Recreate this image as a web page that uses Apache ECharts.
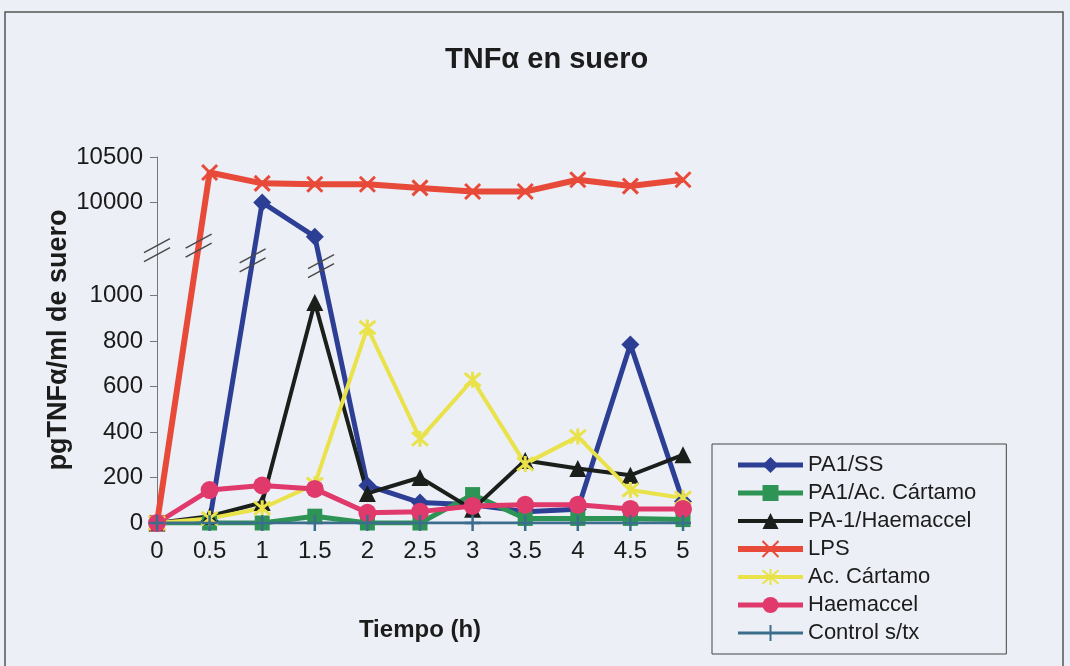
<!DOCTYPE html>
<html>
<head>
<meta charset="utf-8">
<script src="https://cdn.jsdelivr.net/npm/echarts@6/dist/echarts.min.js"></script>
<style>
html,body{margin:0;padding:0;background:#eceff5;}
#chart{width:1070px;height:666px;}
</style>
</head>
<body>
<div id="chart"></div>
<script>
// ---- data ----
const hours = ['0','0.5','1','1.5','2','2.5','3','3.5','4','4.5','5'];
const pa1SS      = [0, 10, 10000, 6700, 165, 90, 80, 50, 60, 785, 95];
const pa1AcCart  = [0, 0, 0, 30, 0, 0, 125, 20, 20, 20, 15];
const pa1Haem    = [0, 30, 90, 970, 130, 200, 60, 275, 240, 210, 300];
const lps        = [0, 10330, 10210, 10200, 10200, 10160, 10120, 10120, 10250, 10180, 10250];
const acCartamo  = [0, 20, 65, 170, 860, 370, 630, 260, 380, 145, 110];
const haemaccel  = [0, 145, 165, 150, 45, 50, 75, 80, 80, 62, 62];
const controlStx = [0, 0, 0, 0, 0, 0, 0, 0, 0, 0, 0];
const yTickValues = [0, 200, 400, 600, 800, 1000, 10000, 10500];

// ---- broken-axis mapping (0-1000 linear, compressed 1000-10000, 10000-10500 linear) ----
function toAxis(v){
  if (v <= 1000) return v;
  if (v <= 10000) return 1000 + (v - 1000) * (410 / 9000);
  return 1410 + (v - 10000) * 0.4;
}
function fromAxis(d){
  if (d <= 1000) return d;
  if (d <= 1410) return 1000 + (d - 1000) * (9000 / 410);
  return 10000 + (d - 1410) / 0.4;
}
const mapArr = a => a.map(toAxis);

const FONT = 'Liberation Sans, Arial, sans-serif';
const X_PATH = 'path://M0,0L10,10M10,0L0,10';
const STAR_PATH = 'path://M0,0L10,10M10,0L0,10M5,-1L5,11';
const PLUS_PATH = 'path://M5,0L5,10M0,5L10,5';

function mk(name, data, color, symbol, size, lw, extra){
  return Object.assign({
    name: name, type: 'line', data: mapArr(data),
    symbol: symbol, symbolSize: size,
    lineStyle: {color: color, width: lw},
    itemStyle: {color: color, borderColor: color, borderWidth: 0},
    emphasis: {disabled: true},
    animation: false
  }, extra || {});
}

const chart = echarts.init(document.getElementById('chart'));
const option = {
  backgroundColor: '#eceff5',
  animation: false,
  title: {
    text: 'TNFα en suero', left: 440, top: 40,
    textStyle: {fontFamily: FONT, fontWeight: 'bold', fontSize: 29, color: '#1c1c1c'}
  },
  grid: {left: 157, right: 387, top: 157, bottom: 143, containLabel: false},
  xAxis: {
    type: 'category', data: hours, boundaryGap: false,
    name: 'Tiempo (h)', nameLocation: 'middle', nameGap: 95,
    nameTextStyle: {fontFamily: FONT, fontWeight: 'bold', fontSize: 24, color: '#1c1c1c'},
    axisLine: {show: true, lineStyle: {color: '#777', width: 1}},
    axisTick: {show: true, length: 6, alignWithLabel: true, lineStyle: {color: '#777'}},
    axisLabel: {fontFamily: FONT, fontSize: 24, color: '#1a1a1a', margin: 16},
    splitLine: {show: false}
  },
  yAxis: {
    type: 'value', min: 0, max: toAxis(10500),
    name: 'pgTNFα/ml de suero', nameLocation: 'middle', nameGap: 84, nameRotate: 90,
    nameTextStyle: {fontFamily: FONT, fontWeight: 'bold', fontSize: 27, color: '#1c1c1c'},
    axisLine: {show: true, lineStyle: {color: '#777', width: 1}},
    axisTick: {show: true, length: 7, customValues: yTickValues.map(toAxis), lineStyle: {color: '#777'}},
    axisLabel: {
      fontFamily: FONT, fontSize: 24, color: '#1a1a1a', margin: 14,
      customValues: yTickValues.map(toAxis),
      formatter: function(d){ return String(Math.round(fromAxis(d))); }
    },
    splitLine: {show: false}
  },
  legend: {
    orient: 'vertical', left: 712, top: 444,
    padding: [10, 30, 10, 23], itemGap: 6, itemWidth: 65, itemHeight: 20,
    backgroundColor: '#eceff5', borderColor: '#444', borderWidth: 1,
    lineStyle: {width: 'inherit'},
    textStyle: {fontFamily: FONT, fontSize: 22, color: '#1c1c1c'},
    data: ['PA1/SS','PA1/Ac. Cártamo','PA-1/Haemaccel','LPS','Ac. Cártamo','Haemaccel','Control s/tx']
  },
  series: [
    mk('PA1/SS', pa1SS, '#2d3e95', 'diamond', 18, 5),
    mk('PA1/Ac. Cártamo', pa1AcCart, '#2e9455', 'rect', 15, 5),
    mk('PA-1/Haemaccel', pa1Haem, '#1b1f1b', 'triangle', 17, 4),
    mk('LPS', lps, '#e84a3a', X_PATH, 15, 6, {itemStyle: {color: '#e84a3a', borderColor: '#e84a3a', borderWidth: 3}}),
    mk('Ac. Cártamo', acCartamo, '#e9e24a', STAR_PATH, 16, 4, {itemStyle: {color: '#e9e24a', borderColor: '#e9e24a', borderWidth: 3}}),
    mk('Haemaccel', haemaccel, '#e0396c', 'circle', 18, 5),
    mk('Control s/tx', controlStx, '#3b6e8c', PLUS_PATH, 16, 3, {itemStyle: {color: '#3b6e8c', borderColor: '#3b6e8c', borderWidth: 2.5}})
  ]
};
chart.setOption(option);

// ---- decorations: frame and "//" break marks placed from the axes ----
function px(i, d){ return chart.convertToPixel({xAxisIndex: 0, yAxisIndex: 0}, [i, d]); }
function crossing(arr, i, dTarget){
  const a = px(i, toAxis(arr[i])), b = px(i + 1, toAxis(arr[i + 1]));
  const y = px(0, dTarget)[1];
  const t = (y - a[1]) / (b[1] - a[1]);
  return [a[0] + t * (b[0] - a[0]), y];
}
function slashes(c){
  const out = [];
  [-4.5, 4.5].forEach(function(o){
    out.push({type: 'line', z: 100,
      shape: {x1: c[0] - 13, y1: c[1] + o + 7, x2: c[0] + 13, y2: c[1] + o - 7},
      style: {stroke: '#4a4a4a', lineWidth: 1.5}});
  });
  return out;
}
const marks = []
  .concat(slashes(px(0, 1200)))
  .concat(slashes(crossing(lps, 0, 1220)))
  .concat(slashes(crossing(pa1SS, 1, 1155)))
  .concat(slashes(crossing(pa1SS, 3, 1130)));
marks.push({type: 'rect', z: -1, silent: true,
  shape: {x: 5, y: 12, width: 1058, height: 700},
  style: {fill: null, stroke: '#555', lineWidth: 1.5}});
chart.setOption({graphic: marks});
</script>
</body>
</html>
